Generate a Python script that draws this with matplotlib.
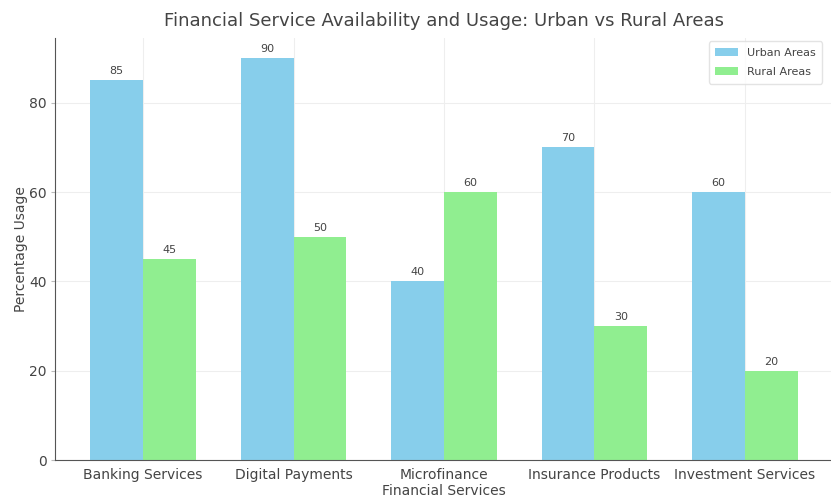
import matplotlib
matplotlib.use("Agg")
import matplotlib.pyplot as plt
import numpy as np

categories = ["Banking Services", "Digital Payments", "Microfinance",
              "Insurance Products", "Investment Services"]
urban = [85, 90, 40, 70, 60]
rural = [45, 50, 60, 30, 20]
yticks = [0, 20, 40, 60, 80]

text_color = "#444444"
plt.rcParams["font.family"] = "DejaVu Sans"

fig = plt.figure(figsize=(8.31, 4.98), dpi=100)
ax = fig.add_axes([55 / 831, 1 - 460 / 498, (833 - 55) / 831, (460 - 38) / 498])

x = np.arange(len(categories))
width = 0.35
b1 = ax.bar(x - width / 2, urban, width, color="skyblue", label="Urban Areas", zorder=2)
b2 = ax.bar(x + width / 2, rural, width, color="lightgreen", label="Rural Areas", zorder=2)

for bars in (b1, b2):
    for rect in bars:
        h = rect.get_height()
        ax.annotate(f"{h:g}", xy=(rect.get_x() + rect.get_width() / 2, h),
                    xytext=(0, 3), textcoords="offset points",
                    ha="center", va="bottom", fontsize=8, color=text_color)

ax.set_xticks(x)
ax.set_xticklabels(categories, fontsize=10, color=text_color)
ax.set_yticks(yticks)
ax.tick_params(axis="y", labelsize=10, labelcolor=text_color, color="#bbbbbb", length=3, pad=3)
ax.tick_params(axis="x", length=0, pad=6)
ax.set_xlabel("Financial Services", fontsize=10, color=text_color, labelpad=1)
ax.set_ylabel("Percentage Usage", fontsize=10, color=text_color, labelpad=1)
ax.set_title("Financial Service Availability and Usage: Urban vs Rural Areas",
             fontsize=13, color=text_color, pad=9)

ax.grid(True, color="#eeeeee", linewidth=0.8, zorder=0)
ax.set_axisbelow(True)
for side in ("top", "right"):
    ax.spines[side].set_visible(False)
ax.spines["left"].set_color("#555555")
ax.spines["bottom"].set_color("#555555")

leg = ax.legend(loc="upper right", bbox_to_anchor=(0.993, 1.005),
                fontsize=8, frameon=True, labelspacing=0.8, borderpad=0.6)
leg.get_frame().set_edgecolor("#dddddd")
for t in leg.get_texts():
    t.set_color(text_color)

fig.savefig("out.png", dpi=100)
